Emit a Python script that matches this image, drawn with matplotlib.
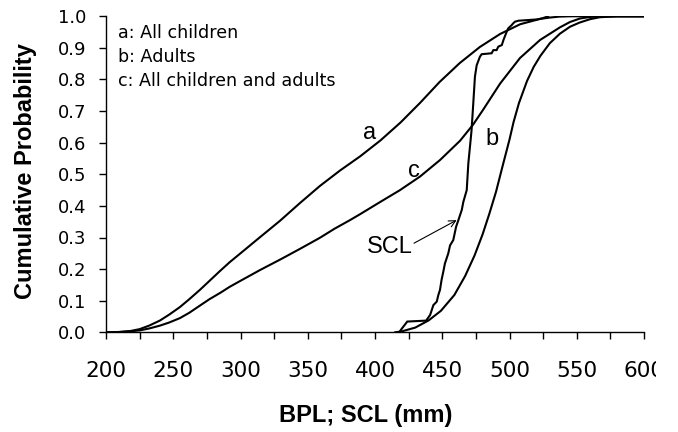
import matplotlib
matplotlib.use("Agg")
import matplotlib.pyplot as plt
from matplotlib.transforms import Bbox, TransformedBbox

# ---- data ----
a_x = [200, 210, 218, 225, 232, 240, 247, 255, 262, 270, 277, 285, 292, 300, 314.5, 329.4, 344.2, 359, 374, 389, 404, 419, 433.5, 448, 463, 478, 493, 508, 523, 530, 537, 545, 600]
a_y = [0.0, 0.001, 0.004, 0.01, 0.021, 0.037, 0.056, 0.08, 0.105, 0.135, 0.163, 0.195, 0.222, 0.25, 0.301, 0.353, 0.409, 0.463, 0.512, 0.557, 0.607, 0.664, 0.726, 0.792, 0.852, 0.903, 0.944, 0.975, 0.992, 0.996, 0.999, 1.0, 1.0]

b_x = [415, 420, 430, 440, 449, 459, 467, 474, 480, 485, 490, 494.5, 500, 503, 507, 513, 518, 523, 530, 537.5, 545, 552, 560, 567, 580, 600]
b_y = [0.0, 0.003, 0.015, 0.038, 0.068, 0.118, 0.178, 0.243, 0.31, 0.375, 0.445, 0.52, 0.61, 0.665, 0.725, 0.795, 0.84, 0.875, 0.915, 0.945, 0.967, 0.98, 0.991, 0.997, 1.0, 1.0]

c_x = [200, 210, 218, 225, 232, 240, 247, 255, 262, 270, 277, 285, 292, 300, 314.5, 329.4, 344.2, 359, 370, 381.4, 389, 403.7, 418.6, 433.5, 448.3, 463.2, 472.9, 480.5, 493, 507.8, 522.7, 537.5, 545, 552.4, 560, 567, 600]
c_y = [0.0, 0.001, 0.003, 0.006, 0.012, 0.021, 0.031, 0.045, 0.062, 0.085, 0.105, 0.125, 0.144, 0.163, 0.197, 0.23, 0.264, 0.299, 0.328, 0.355, 0.374, 0.412, 0.45, 0.493, 0.545, 0.606, 0.657, 0.705, 0.787, 0.868, 0.925, 0.965, 0.982, 0.993, 0.998, 1.0, 1.0]

scl_x = [418, 420, 424, 438, 441, 443.4, 445.9, 447.1, 448.3, 449.5, 450.8, 452, 454.5, 455.8, 458.2, 460.3, 462, 464.5, 465.7, 468.2, 469.4, 470.6, 471.8, 473, 474.3, 475.6, 478, 479.3, 486.7, 488, 490.4, 491.7, 494.3, 495.5, 497.9, 499.1, 501.6, 502.8, 504.1, 506.6, 520.2, 524, 528.7]
scl_y = [0.0, 0.012, 0.034, 0.037, 0.055, 0.086, 0.097, 0.118, 0.134, 0.166, 0.192, 0.218, 0.25, 0.275, 0.292, 0.334, 0.355, 0.387, 0.413, 0.45, 0.535, 0.587, 0.64, 0.72, 0.809, 0.845, 0.872, 0.88, 0.883, 0.893, 0.893, 0.904, 0.909, 0.925, 0.951, 0.962, 0.972, 0.978, 0.983, 0.986, 0.99, 0.993, 1.0]

x_ticks = [200, 250, 300, 350, 400, 450, 500, 550, 600]
x_minor = [225, 275, 325, 375, 425, 475, 525, 575]
y_ticks = [0.0, 0.1, 0.2, 0.3, 0.4, 0.5, 0.6, 0.7, 0.8, 0.9, 1.0]

legend_lines = ["a: All children", "b: Adults", "c: All children and adults"]
curve_labels = ["a", "b", "c"]

# ---- figure ----
W, H = 678, 432
fig = plt.figure(figsize=(W / 100, H / 100), dpi=100)
ax = fig.add_axes([106 / W, 99.7 / H, 538 / W, 316 / H])

lw = 1.5
ax.plot(a_x, a_y, color="black", lw=lw, solid_joinstyle="round")
ax.plot(b_x, b_y, color="black", lw=lw, solid_joinstyle="round")
ax.plot(c_x, c_y, color="black", lw=lw, solid_joinstyle="round")
ax.plot(scl_x, scl_y, color="black", lw=lw, solid_joinstyle="miter")

ax.set_xlim(200, 600)
ax.set_ylim(0, 1.0)

for s in ["top", "right"]:
    ax.spines[s].set_visible(False)
for s in ["left", "bottom"]:
    ax.spines[s].set_linewidth(1.0)

ax.set_xticks(x_ticks)
ax.set_xticks(x_minor, minor=True)
ax.set_yticks(y_ticks)
ax.set_xticklabels([str(v) for v in x_ticks], fontfamily="DejaVu Sans", fontsize=15.5)
ax.set_yticklabels([f"{v:.1f}" for v in y_ticks], fontfamily="DejaVu Sans", fontsize=13)
ax.tick_params(axis="x", which="both", direction="out", length=5, width=1.0, pad=15.5)
ax.tick_params(axis="y", which="both", direction="out", length=5, width=1.0, pad=9)

# legend-like text block
leg_y = [0.931, 0.855, 0.779]
for t, yy in zip(legend_lines, leg_y):
    ax.text(208.7, yy, t, fontfamily="DejaVu Sans", fontsize=12.6, va="baseline", ha="left")

# curve labels
lab_pos = {"a": (395.9, 0.611), "b": (486.7, 0.593), "c": (429.1, 0.492)}
for k in curve_labels:
    ax.text(lab_pos[k][0], lab_pos[k][1], k, fontfamily="Liberation Sans", fontsize=17,
            ha="center", va="baseline")
ax.text(410.8, 0.25, "SCL", fontfamily="Liberation Sans", fontsize=17, ha="center", va="baseline")
ax.annotate("", xy=(460.7, 0.355), xytext=(429, 0.282),
            arrowprops=dict(arrowstyle="->", lw=0.8, color="black", shrinkA=0, shrinkB=0,
                            mutation_scale=12))

# axis titles
fig.text(25.9 / W, 1 - 171.5 / H, "Cumulative Probability", rotation=90, fontfamily="Liberation Sans",
         fontsize=17, fontweight="bold", ha="center", va="center")
fig.text(366 / W, 1 - 421.7 / H, "BPL; SCL (mm)", fontfamily="Liberation Sans",
         fontsize=17, fontweight="bold", ha="center", va="baseline")

# clip last x tick label like the reference
clip = TransformedBbox(Bbox([[0, 0], [656 / W, 1]]), fig.transFigure)
last = ax.get_xticklabels()[-1]
last.set_clip_box(clip)
last.set_clip_on(True)

fig.savefig("out.png", dpi=100)
